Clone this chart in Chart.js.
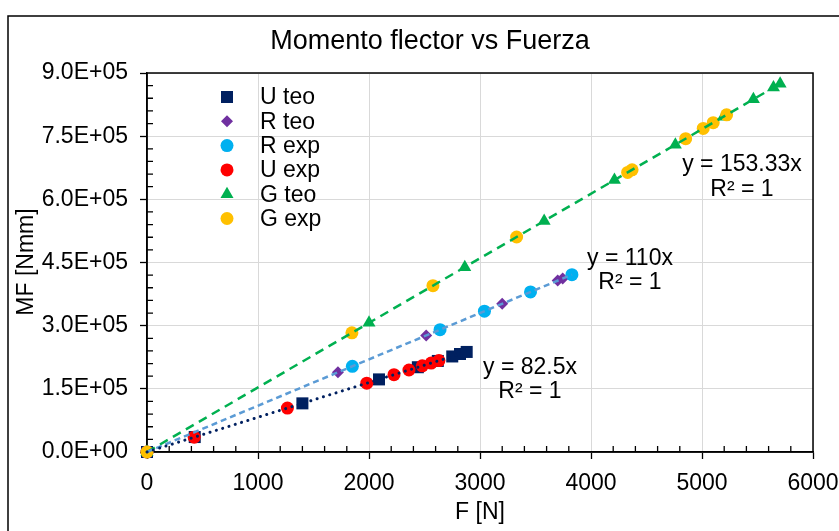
<!DOCTYPE html>
<html>
<head>
<meta charset="utf-8">
<script src="https://cdn.jsdelivr.net/npm/chart.js@4.4.1/dist/chart.umd.min.js"></script>
<style>
  body { margin: 0; background: #fff; }
  canvas { display: block; }
</style>
</head>
<body>
<canvas id="graficaMF" width="839" height="531"></canvas>
<script>
// Fuerza F [N] y momento flector MF [Nmm] de cada serie
const F_U_teo = [0, 430, 1400, 2090, 2440, 2620, 2750, 2820, 2880];
const MF_U_teo = [0, 35500, 115500, 172400, 201300, 216200, 226900, 232700, 237600];
const F_R_teo = [0, 1720, 2515, 3200, 3700, 3745];
const MF_R_teo = [0, 189200, 276700, 352000, 407000, 412000];
const F_R_exp = [0, 1850, 2640, 3040, 3455, 3828];
const MF_R_exp = [0, 203500, 290400, 334400, 380100, 421100];
const F_U_exp = [0, 425, 1265, 1980, 2225, 2360, 2480, 2560, 2630];
const MF_U_exp = [0, 35100, 104400, 163400, 183600, 194700, 204600, 211200, 217000];
const F_G_teo = [0, 2000, 2863, 3578, 4211, 4760, 5192, 5463, 5644, 5704];
const MF_G_teo = [0, 306700, 439000, 548600, 645700, 729900, 796100, 837600, 865400, 874600];
const F_G_exp = [0, 1846, 2576, 3330, 4330, 4370, 4853, 5011, 5101, 5222];
const MF_G_exp = [0, 283000, 395000, 510600, 663900, 670100, 744100, 768300, 782100, 800700];

// Líneas de tendencia (y = m·x, R² = 1)
const pendientes = [82.5, 110, 153.33];
const finTendencia = [2880, 3828, 5704];
const ecuaciones = ['y = 82.5x', 'y = 110x', 'y = 153.33x'];

const xTicks = [0, 1000, 2000, 3000, 4000, 5000, 6000];
const yTicks = [0, 150000, 300000, 450000, 600000, 750000, 900000];

const FUENTE = '"Liberation Sans", Arial, sans-serif';

function pares(xs, ys) {
    return xs.map((x, i) => ({ x: x, y: ys[i] }));
}

// 9.0E+05
function formatoCientifico(v) {
    if (v === 0) return '0.0E+00';
    const e = Math.floor(Math.log10(Math.abs(v)));
    const m = v / Math.pow(10, e);
    return m.toFixed(1) + 'E' + (e < 0 ? '-' : '+') + String(Math.abs(e)).padStart(2, '0');
}

const series = [
    { label: 'U teo', data: pares(F_U_teo, MF_U_teo), color: '#002060', style: 'rect', r: 8.5, order: 6 },
    { label: 'R teo', data: pares(F_R_teo, MF_R_teo), color: '#7030A0', style: 'rectRot', r: 6, order: 5 },
    { label: 'R exp', data: pares(F_R_exp, MF_R_exp), color: '#00B0F0', style: 'circle', r: 6.5, order: 4 },
    { label: 'U exp', data: pares(F_U_exp, MF_U_exp), color: '#FF0000', style: 'circle', r: 6.5, order: 3 },
    { label: 'G teo', data: pares(F_G_teo, MF_G_teo), color: '#00B050', style: 'triangle', r: 7.5, order: 2 },
    { label: 'G exp', data: pares(F_G_exp, MF_G_exp), color: '#FFC000', style: 'circle', r: 6.5, order: 1 }
];

const estiloTendencia = [
    { color: '#002060', dash: [0.1, 6.5], cap: 'round', width: 3 },
    { color: '#5B9BD5', dash: [6, 4], cap: 'butt', width: 2.5 },
    { color: '#00B050', dash: [9, 6], cap: 'butt', width: 2.5 }
];

const datasets = series.map(s => ({
    label: s.label,
    data: s.data,
    pointStyle: s.style,
    pointRadius: s.r,
    backgroundColor: s.color,
    borderColor: s.color,
    pointBorderWidth: 0,
    showLine: false,
    clip: false,
    order: s.order
}));

pendientes.forEach((m, i) => {
    const st = estiloTendencia[i];
    datasets.push({
        label: 'tendencia ' + i,
        data: [{ x: 0, y: 0 }, { x: finTendencia[i], y: m * finTendencia[i] }],
        showLine: true,
        pointRadius: 0,
        borderColor: st.color,
        borderWidth: st.width,
        borderDash: st.dash,
        borderCapStyle: st.cap,
        fill: false,
        clip: false,
        order: 0
    });
});

// Marco, subdivisiones, leyenda y textos
const decorado = {
    id: 'decorado',
    beforeDraw(chart) {
        const ctx = chart.ctx;
        ctx.save();
        ctx.fillStyle = '#fff';
        ctx.fillRect(0, 0, chart.width, chart.height);
        ctx.strokeStyle = '#000';
        ctx.lineWidth = 1.5;
        ctx.strokeRect(8, 16, 1000, 1000);
        ctx.restore();
    },
    beforeDatasetsDraw(chart) {
        const ctx = chart.ctx;
        const a = chart.chartArea;
        const sx = chart.scales.x, sy = chart.scales.y;
        ctx.save();
        // borde del área de trazado
        ctx.strokeStyle = '#000';
        ctx.lineWidth = 1.5;
        ctx.strokeRect(a.left, a.top, a.right - a.left, a.bottom - a.top);

        // marcas menores hacia dentro
        ctx.lineWidth = 1.3;
        ctx.beginPath();
        for (let v = 200; v < 6000; v += 200) {
            if (v % 1000 === 0) continue;
            const px = sx.getPixelForValue(v);
            ctx.moveTo(px, a.bottom);
            ctx.lineTo(px, a.bottom - 6);
        }
        for (let v = 30000; v < 900000; v += 30000) {
            if (v % 150000 === 0) continue;
            const py = sy.getPixelForValue(v);
            ctx.moveTo(a.left, py);
            ctx.lineTo(a.left + 6, py);
        }
        ctx.stroke();
        ctx.restore();
    },
    afterDraw(chart) {
        const ctx = chart.ctx;
        ctx.save();
        ctx.fillStyle = '#000';
        ctx.textAlign = 'center';
        ctx.textBaseline = 'middle';

        // título
        ctx.font = '27px ' + FUENTE;
        ctx.fillText('Momento flector vs Fuerza', 430, 42);

        // títulos de ejes
        ctx.font = '23px ' + FUENTE;
        ctx.fillText('F [N]', 480, 513);
        ctx.save();
        ctx.translate(27, 262);
        ctx.rotate(-Math.PI / 2);
        ctx.fillText('MF [Nmm]', 0, 0);
        ctx.restore();

        // ecuaciones de las tendencias
        const posEc = [[530, 368, 392], [630, 259, 283], [742, 165, 190]];
        ecuaciones.forEach((t, i) => {
            const p = posEc[i];
            ctx.fillText(t, p[0], p[1]);
            ctx.fillText('R² = 1', p[0], p[2]);
        });

        // leyenda
        ctx.textAlign = 'left';
        series.forEach((s, i) => {
            const y = 97 + i * 24.3;
            ctx.fillStyle = s.color;
            Chart.helpers.drawPoint(ctx, { pointStyle: s.style, radius: s.r, rotation: 0, borderWidth: 0 }, 227, y);
            ctx.fillStyle = '#000';
            ctx.fillText(s.label, 260, y + 1);
        });

        ctx.restore();
    }
};

const ctxMF = document.getElementById('graficaMF').getContext('2d');
const graficaMF = new Chart(ctxMF, {
    type: 'scatter',
    data: { datasets: datasets },
    options: {
        responsive: false,
        animation: false,
        devicePixelRatio: 1,
        layout: { padding: { left: 0, top: 73, right: 26, bottom: 0 } },
        plugins: {
            legend: { display: false },
            title: { display: false },
            tooltip: { enabled: false }
        },
        scales: {
            x: {
                type: 'linear',
                min: 0,
                max: 6000,
                afterBuildTicks: s => { s.ticks = xTicks.map(v => ({ value: v })); },
                ticks: {
                    color: '#000',
                    font: { family: FUENTE, size: 23 },
                    padding: 11,
                    maxRotation: 0,
                    callback: v => String(v)
                },
                grid: { color: '#d9d9d9', lineWidth: 1, tickColor: '#000', tickLength: 7, tickWidth: 1.3 },
                border: { color: '#000', width: 1.5 },
                afterFit: s => {
                    s.height = 531 - 452;
                    s.paddingLeft = 0;
                    s.paddingRight = 0;
                }
            },
            y: {
                type: 'linear',
                min: 0,
                max: 900000,
                afterBuildTicks: s => { s.ticks = yTicks.map(v => ({ value: v })); },
                ticks: {
                    color: '#000',
                    font: { family: FUENTE, size: 23 },
                    padding: 12,
                    callback: v => formatoCientifico(v)
                },
                grid: { color: '#d9d9d9', lineWidth: 1, tickColor: '#000', tickLength: 7, tickWidth: 1.3 },
                border: { color: '#000', width: 1.5 },
                afterFit: s => {
                    s.width = 147;
                    s.paddingTop = 0;
                    s.paddingBottom = 0;
                }
            }
        }
    },
    plugins: [decorado]
});
</script>
</body>
</html>
